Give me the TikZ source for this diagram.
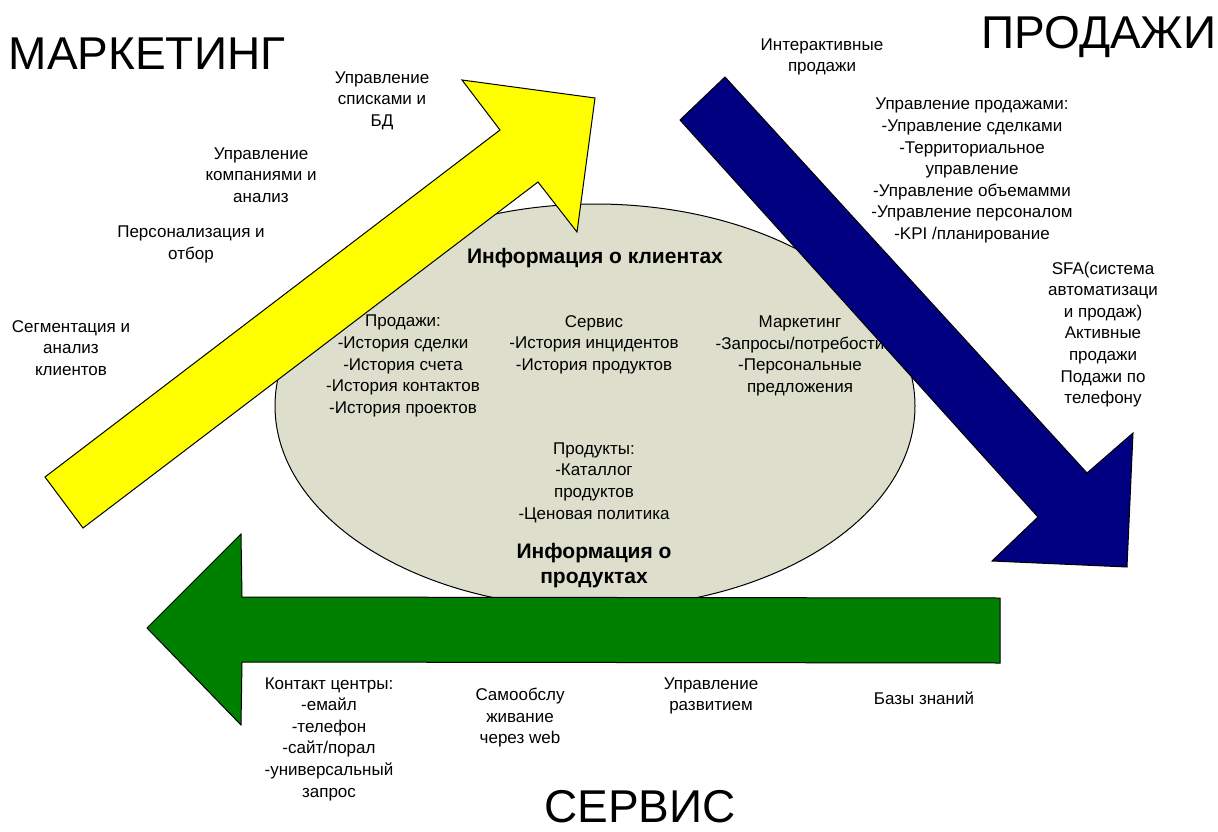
\documentclass[tikz,border=0pt]{standalone}
\usepackage{fontspec}
\setmainfont{Liberation Sans}
\usetikzlibrary{shapes.geometric}
\definecolor{ellfill}{RGB}{221,223,204}
\definecolor{arryellow}{RGB}{255,255,0}
\definecolor{arrblue}{RGB}{0,0,128}
\definecolor{arrgreen}{RGB}{0,128,0}
\tikzset{
  lbl/.style={align=center, inner sep=0pt, yshift=-3.5pt, font=\fontsize{17}{21.6}\selectfont,
    execute at begin node=\strut, execute at end node=\strut},
  boldlbl/.style={align=center, inner sep=0pt, font=\fontsize{21}{25}\selectfont\bfseries,
    execute at begin node=\strut, execute at end node=\strut},
  ttl/.style={inner sep=0pt, anchor=base, font=\fontsize{46}{50}\selectfont},
  bigarrow/.style={draw=black, line width=1pt, line join=miter},
  ellnode/.style={draw=black, line width=1pt, ellipse, fill=ellfill, inner sep=0pt}
}
\begin{document}
\begin{tikzpicture}[x=1pt,y=-1pt]
\useasboundingbox (0,0) rectangle (1218,832);
% central ellipse
\node[ellnode, minimum width=640pt, minimum height=404pt] (info) at (595,406) {};
% yellow arrow (marketing)
\draw[bigarrow, fill=arryellow] (45,477) -- (500,130) -- (462,80) -- (595,98) -- (577,232) -- (538,182) -- (83,528) -- cycle;
% texts inside ellipse
\node[boldlbl] (infokl) at (595,258) {Информация о клиентах};
\node[lbl] (prodhist) at (403,364) {Продажи:\\-История сделки\\-История счета\\-История контактов\\-История проектов};
\node[lbl] (servhist) at (594,342.5) {Сервис\\-История инцидентов\\-История продуктов};
\node[lbl] (markhist) at (800,354) {Маркетинг\\-Запросы/потребости\\-Персональные\\предложения};
\node[lbl] (produkty) at (594,480.5) {Продукты:\\-Каталлог\\продуктов\\-Ценовая политика};
\node[boldlbl] (infopr) at (594,567) {Информация о\\продуктах};
% blue arrow (sales)
\draw[bigarrow, fill=arrblue] (680,120) -- (725,77) -- (1087,473) -- (1133,433) -- (1127,567) -- (992,561) -- (1038,517) -- cycle;
% green arrow (service)
\draw[bigarrow, fill=arrgreen] (1000,598) -- (242,597) -- (241,534) -- (147,628) -- (241,725) -- (242,662) -- (1000,663) -- cycle;
% titles
\node[ttl] (tmark) at (147,70) {МАРКЕТИНГ};
\node[ttl] (tprod) at (1099,48.5) {ПРОДАЖИ};
\node[ttl] (tserv) at (640,822) {СЕРВИС};
% marketing labels
\node[lbl] (spiski) at (382,98.5) {Управление\\списками и\\БД};
\node[lbl] (kompan) at (261,174.5) {Управление\\компаниями и\\анализ};
\node[lbl] (person) at (191,242.5) {Персонализация и\\отбор};
\node[lbl] (segm) at (71,347.5) {Сегментация и\\анализ\\клиентов};
% sales labels
\node[lbl] (inter) at (822,55) {Интерактивные\\продажи};
\node[lbl] (uprprod) at (972,168.5) {Управление продажами:\\-Управление сделками\\-Территориальное\\управление\\-Управление объемамми\\-Управление персоналом\\-KPI /планирование};
\node[lbl] (sfa) at (1103,332.5) {SFA(система\\автоматизаци\\и продаж)\\Активные\\продажи\\Подажи по\\телефону};
% service labels
\node[lbl] (kontakt) at (329,737) {Контакт центры:\\-емайл\\-телефон\\-сайт/порал\\-универсальный\\запрос};
\node[lbl] (samo) at (520,715.5) {Самообслу\\живание\\через web};
\node[lbl] (razv) at (711,694) {Управление\\развитием};
\node[lbl] (baza) at (924,697) {Базы знаний};
\end{tikzpicture}
\end{document}
